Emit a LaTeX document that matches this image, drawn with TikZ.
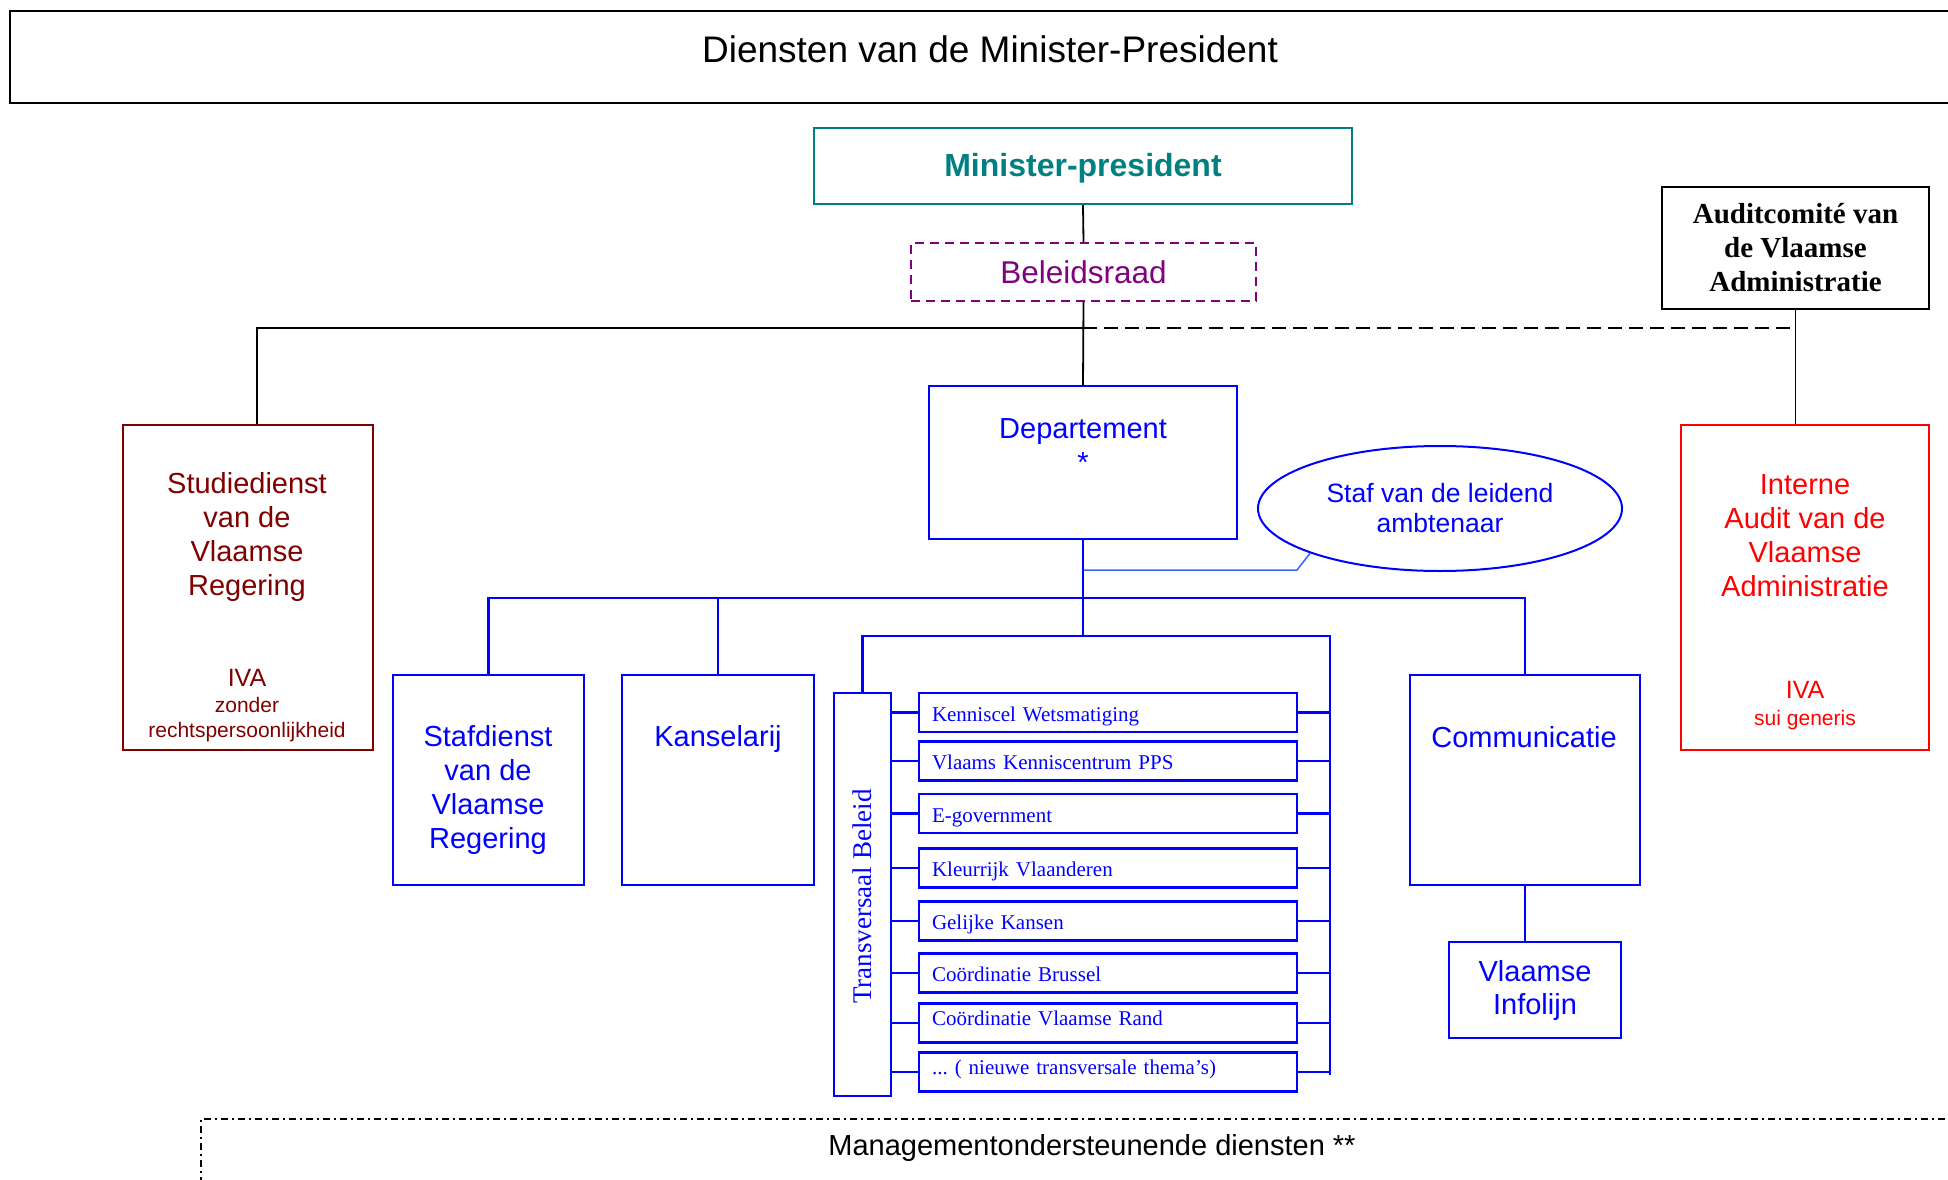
\documentclass[tikz,border=0pt]{standalone}
\usepackage{fontspec}
\setmainfont{Liberation Serif}
\setsansfont{Liberation Sans}
\usepackage{tikz}
\usetikzlibrary{shapes.geometric, positioning, calc}
\definecolor{mpteal}{RGB}{0, 128, 128}
\definecolor{raadpurple}{RGB}{128, 0, 128}
\definecolor{studred}{RGB}{128, 0, 0}
\definecolor{auditred}{RGB}{255, 0, 0}
\definecolor{deptblue}{RGB}{0, 0, 255}
\definecolor{stafblue}{RGB}{51, 102, 255}
\newcommand{\orgsize}[2]{\fontsize{#1}{#2}\selectfont}

\begin{document}
\begin{tikzpicture}[
    x=1pt, y=-1pt,
    txt/.style={inner sep=0pt, align=center, font=\sffamily\orgsize{29}{34}},
    small/.style={inner sep=0pt, align=center, font=\sffamily\orgsize{21}{25}},
    frame/.style={draw, line width=2.5pt},
    mpbox/.style={draw=mpteal, line width=2pt, text=mpteal, text height=28pt, text depth=6.7pt, font=\sffamily\bfseries\orgsize{32}{38}},
    raad/.style={draw=raadpurple, dash pattern=on 9pt off 6pt, line width=1.6pt, text=raadpurple, font=\sffamily\orgsize{31.5}{36}},
    auditbox/.style={draw, line width=2pt, align=center, font=\rmfamily\bfseries\orgsize{29}{34}},
    studbox/.style={draw=studred, line width=2pt},
    iabox/.style={draw=auditred, line width=2pt},
    unit/.style={draw=deptblue, line width=2pt, text=deptblue, align=center, font=\sffamily\orgsize{29}{33}},
    item/.style={draw=deptblue, line width=2.5pt, text=deptblue, font=\rmfamily\orgsize{21}{25}, text width=352pt, inner xsep=13pt, inner ysep=0pt, minimum height=39pt, text height=22pt, text depth=5pt, align=left},
    conn/.style={line width=1.8pt},
    bconn/.style={draw=deptblue, line width=2.2pt},
    staflink/.style={draw=stafblue, line width=1.5pt},
    mgmt/.style={draw, line width=1.5pt, dash pattern=on 7pt off 4pt on 2pt off 4pt}
]
    \useasboundingbox (0,0) rectangle (1948,1180);

    % Title
    \node[frame, minimum width=1960pt, minimum height=92pt] (title) at (990,57) {};
    \node[txt, font=\sffamily\orgsize{37}{44}] (titlet) at (990,49) {Diensten van de Minister-President};

    % Top level
    \node[mpbox, minimum width=538pt, minimum height=76pt] (mp) at (1083,166) {Minister-president};
    \node[raad, minimum width=345pt, minimum height=58pt] (bel) at (1083.5,272) {Beleidsraad};
    \node[auditbox, minimum width=267pt, minimum height=122pt] (audit) at (1795.5,248) {Auditcomit\'e van\\de Vlaamse\\Administratie};
    \coordinate (hub) at (1083,328);

    % Studiedienst
    \node[studbox, minimum width=250pt, minimum height=325pt] (stud) at (248,587.5) {};
    \node[txt, text=studred] (studt) at (247,537) {Studiedienst\\van de\\Vlaamse\\Regering};
    \node[txt, text=studred, font=\sffamily\orgsize{25}{30}] (studiva) at (247,678) {IVA};
    \node[small, text=studred] (studsub) at (247,720) {zonder\\rechtspersoonlijkheid};

    % Interne Audit
    \node[iabox, minimum width=248pt, minimum height=325pt] (ia) at (1805,587.5) {};
    \node[txt, text=auditred] (iat) at (1805,536) {Interne\\Audit van de\\Vlaamse\\Administratie};
    \node[txt, text=auditred, font=\sffamily\orgsize{25}{30}] (iaiva) at (1805,690) {IVA};
    \node[small, text=auditred] (iasub) at (1805,720) {sui generis};

    % Departement
    \node[unit, minimum width=308pt, minimum height=153pt] (dep) at (1083,462.5) {};
    \node[txt, text=deptblue] (dept) at (1083,446) {Departement\\*};
    \node[ellipse, draw=deptblue, line width=2pt, text=deptblue, align=center, inner sep=0pt, font=\sffamily\orgsize{26.5}{30}, minimum width=364pt, minimum height=125pt] (staf) at (1440,508.5) {Staf van de leidend\\ambtenaar};

    \node[unit, minimum width=191pt, minimum height=210pt] (stafd) at (488.5,780) {};
    \node[txt, text=deptblue] (stafdt) at (488,790) {Stafdienst\\van de\\Vlaamse\\Regering};
    \node[unit, minimum width=192pt, minimum height=210pt] (kans) at (718,780) {};
    \node[txt, text=deptblue] (kanst) at (718,739) {Kanselarij};
    \node[unit, minimum width=230pt, minimum height=210pt] (comm) at (1525,780) {};
    \node[txt, text=deptblue] (commt) at (1524,737) {Communicatie};
    \node[unit, minimum width=172pt, minimum height=96pt] (info) at (1535,990) {Vlaamse\\Infolijn};

    % Transversaal beleid
    \node[unit, minimum width=57pt, minimum height=403pt] (trans) at (862.5,894.5) {};
    \node[inner sep=0pt, rotate=90, text=deptblue, font=\rmfamily\orgsize{27}{32}] (transt) at ([yshift=-2pt]trans.center) {Transversaal Beleid};
    \node[item] (k1) at (1108,712.5) {Kenniscel Wetsmatiging};
    \node[item] (k2) at (1108,761) {Vlaams Kenniscentrum PPS};
    \node[item] (k3) at (1108,813.5) {E-government};
    \node[item] (k4) at (1108,868) {Kleurrijk Vlaanderen};
    \node[item] (k5) at (1108,921) {Gelijke Kansen};
    \node[item] (k6) at (1108,973) {Co\"ordinatie Brussel};
    \node[item, text height=14pt, text depth=10pt] (k7) at (1108,1023) {Co\"ordinatie Vlaamse Rand};
    \node[item, text height=14pt, text depth=10pt] (k8) at (1108,1072) {...\ ( nieuwe transversale thema’s)};

    % Managementondersteunende diensten
    \node[mgmt, anchor=north west, minimum width=1800pt, minimum height=150pt] (mgmt) at (200,1118) {};
    \node[txt] (mgmtt) at (1092,1148) {Managementondersteunende diensten **};

    % Lines
    \draw[conn] (mp.south) -- (bel.north);
    \draw[conn] (bel.south) -- (dep.north);
    \draw[conn] (hub) -| ([xshift=9pt]stud.north);
    \draw[conn, dash pattern=on 14pt off 7pt] (hub) -- (hub -| audit.south);
    \draw[conn] (audit.south) -- (audit.south |- ia.north);

    \coordinate (knee) at (1297,570);
    \coordinate (bus1) at (1083,598);
    \coordinate (bus2) at (1083,636);
    \coordinate (rtop) at (1330,636);
    \coordinate (rbot) at (1330,1075);
    \draw[staflink] (dep.south |- knee) -- (knee) -- (staf.199);
    \draw[bconn] (dep.south) -- (bus2);
    \draw[bconn] (stafd.north) |- (bus1) -| (comm.north);
    \draw[bconn] (kans.north) -- (kans.north |- bus1);
    \draw[bconn] (comm.south) -- (comm.south |- info.north);
    \draw[bconn] (trans.north) |- (rtop) -- (rbot);

    \draw[bconn] (trans.east |- k1.west) -- (k1.west);  \draw[bconn] (k1.east) -- (k1.east -| rtop);
    \draw[bconn] (trans.east |- k2.west) -- (k2.west);  \draw[bconn] (k2.east) -- (k2.east -| rtop);
    \draw[bconn] (trans.east |- k3.west) -- (k3.west);  \draw[bconn] (k3.east) -- (k3.east -| rtop);
    \draw[bconn] (trans.east |- k4.west) -- (k4.west);  \draw[bconn] (k4.east) -- (k4.east -| rtop);
    \draw[bconn] (trans.east |- k5.west) -- (k5.west);  \draw[bconn] (k5.east) -- (k5.east -| rtop);
    \draw[bconn] (trans.east |- k6.west) -- (k6.west);  \draw[bconn] (k6.east) -- (k6.east -| rtop);
    \draw[bconn] (trans.east |- k7.west) -- (k7.west);  \draw[bconn] (k7.east) -- (k7.east -| rtop);
    \draw[bconn] (trans.east |- k8.west) -- (k8.west);  \draw[bconn] (k8.east) -- (k8.east -| rtop);

\end{tikzpicture}
\end{document}
